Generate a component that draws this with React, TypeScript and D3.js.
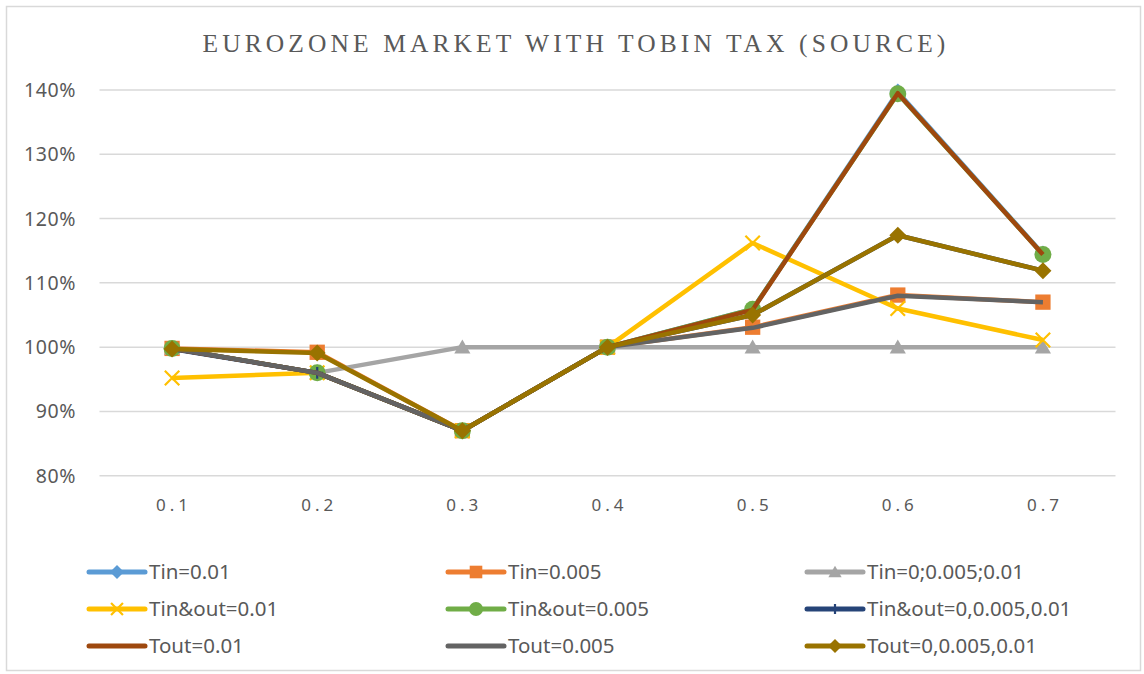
import React from "react";
import * as d3 from "d3";

const categories = ["0.1", "0.2", "0.3", "0.4", "0.5", "0.6", "0.7"];
const yTicks = [0.8, 0.9, 1.0, 1.1, 1.2, 1.3, 1.4];

const seriesNames = [
  "Tin=0.01",
  "Tin=0.005",
  "Tin=0;0.005;0.01",
  "Tin&out=0.01",
  "Tin&out=0.005",
  "Tin&out=0,0.005,0.01",
  "Tout=0.01",
  "Tout=0.005",
  "Tout=0,0.005,0.01",
];

const tin001 = [0.998, 0.96, 0.87, 1.0, 1.059, 1.397, 1.145];
const tin0005 = [0.998, 0.992, 0.87, 1.0, 1.031, 1.081, 1.07];
const tinAll = [0.998, 0.96, 1.0, 1.0, 1.0, 1.0, 1.0];
const tinout001 = [0.952, 0.96, 0.87, 1.0, 1.162, 1.06, 1.011];
const tinout0005 = [0.998, 0.96, 0.87, 1.0, 1.059, 1.394, 1.144];
const tinoutAll = [0.997, 0.96, 0.87, 1.0, 1.05, 1.174, 1.119];
const tout001 = [0.998, 0.96, 0.87, 1.0, 1.058, 1.395, 1.144];
const tout0005 = [0.998, 0.96, 0.87, 1.0, 1.03, 1.08, 1.07];
const toutAll = [0.997, 0.991, 0.87, 1.0, 1.05, 1.174, 1.119];

const seriesValues = [tin001, tin0005, tinAll, tinout001, tinout0005, tinoutAll, tout001, tout0005, toutAll];
const seriesColors = ["#5B9BD5", "#ED7D31", "#A5A5A5", "#FFC000", "#70AD47", "#264478", "#9E480E", "#636363", "#997300"];
const seriesMarkers = ["diamond", "square", "triangle", "x", "circle", "plus", "none", "none", "diamond"];

const W = 1144;
const H = 674;

function Marker({ type, x, y, color, s }: { type: string; x: number; y: number; color: string; s: number }) {
  const h = s / 2;
  switch (type) {
    case "diamond":
      return <path d={`M${x},${y - h}L${x + h},${y}L${x},${y + h}L${x - h},${y}Z`} fill={color} />;
    case "square":
      return <rect x={x - h * 0.9} y={y - h * 0.9} width={s * 0.9} height={s * 0.9} fill={color} />;
    case "triangle":
      return <path d={`M${x},${y - h * 0.9}L${x + h * 0.95},${y + h * 0.75}L${x - h * 0.95},${y + h * 0.75}Z`} fill={color} />;
    case "circle":
      return <circle cx={x} cy={y} r={h} fill={color} />;
    case "x":
      return (
        <path
          d={`M${x - h * 0.85},${y - h * 0.85}L${x + h * 0.85},${y + h * 0.85}M${x - h * 0.85},${y + h * 0.85}L${x + h * 0.85},${y - h * 0.85}`}
          stroke={color}
          strokeWidth={2.2}
          fill="none"
        />
      );
    case "plus":
      return (
        <path d={`M${x},${y - h * 0.7}L${x},${y + h * 0.7}M${x - h * 0.7},${y}L${x + h * 0.7},${y}`} stroke={color} strokeWidth={2.2} fill="none" />
      );
    default:
      return null;
  }
}

export default function App() {
  const x = d3.scaleBand().domain(categories).range([99.5, 1115.5]);
  const y = d3.scaleLinear().domain([0.8, 1.4]).range([475.7, 90]);
  const cx = (c: string) => (x(c) as number) + x.bandwidth() / 2;
  const line = d3
    .line<number>()
    .x((_, i) => cx(categories[i]))
    .y((d) => y(d));

  const legendCols = [89, 448, 807];
  const legendRows = [572, 609, 646];
  const font = "'Noto Sans', 'Open Sans', sans-serif";

  return (
    <svg width={W} height={H} style={{ position: "absolute", left: 0, top: 0, background: "#fff" }}>
      <rect x={0} y={0} width={W} height={H} fill="#fff" />
      <rect x={6.5} y={6.5} width={W - 10} height={H - 10} fill="none" stroke="#D9D9D9" strokeWidth={1.5} />
      <text
        x={576}
        y={52}
        textAnchor="middle"
        fontFamily="'Liberation Serif', 'DejaVu Serif', serif"
        fontSize={25.5}
        letterSpacing={4.1}
        fill="#595959"
      >
        EUROZONE MARKET WITH TOBIN TAX (SOURCE)
      </text>
      {yTicks.map((t) => (
        <g key={t}>
          <line x1={99.5} x2={1115.5} y1={y(t)} y2={y(t)} stroke="#D9D9D9" strokeWidth={1.5} />
          <text x={76} y={y(t)} dy="0.36em" textAnchor="end" fontFamily={font} fontSize={19.5} letterSpacing={0.6} fill="#595959">
            {d3.format(".0%")(t)}
          </text>
        </g>
      ))}
      {categories.map((c) => (
        <text key={c} x={cx(c) + 2} y={511} textAnchor="middle" fontFamily={font} fontSize={17} letterSpacing={4} fill="#595959">
          {c}
        </text>
      ))}
      {seriesValues.map((vals, si) => (
        <g key={seriesNames[si]}>
          <path d={line(vals) || ""} fill="none" stroke={seriesColors[si]} strokeWidth={4.5} strokeLinejoin="round" />
          {vals.map((v, i) => (
            <Marker key={i} type={seriesMarkers[si]} x={cx(categories[i])} y={y(v)} color={seriesColors[si]} s={17} />
          ))}
        </g>
      ))}
      {seriesNames.map((name, si) => {
        const lx = legendCols[si % 3];
        const ly = legendRows[Math.floor(si / 3)];
        return (
          <g key={name}>
            <line x1={lx} x2={lx + 56} y1={ly} y2={ly} stroke={seriesColors[si]} strokeWidth={5} strokeLinecap="round" />
            <Marker type={seriesMarkers[si]} x={lx + 28} y={ly} color={seriesColors[si]} s={14} />
            <text x={lx + 60} y={ly} dy="0.36em" fontFamily={font} fontSize={20.5} fill="#595959">
              {name}
            </text>
          </g>
        );
      })}
    </svg>
  );
}
